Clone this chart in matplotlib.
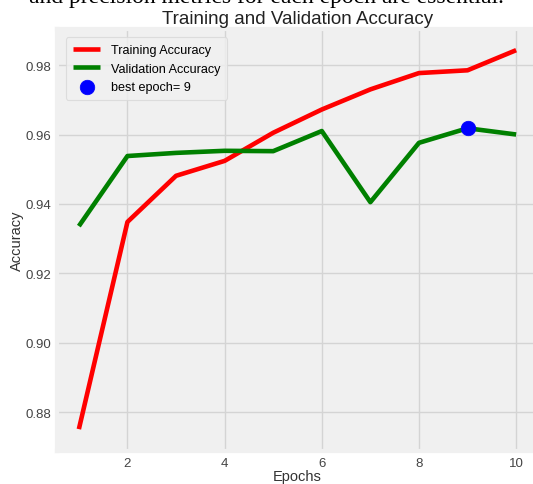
import matplotlib
matplotlib.use("Agg")
import matplotlib.pyplot as plt

plt.style.use("fivethirtyeight")
plt.rcParams["font.family"] = ["Liberation Sans", "DejaVu Sans"]

epochs = [1, 2, 3, 4, 5, 6, 7, 8, 9, 10]
train_acc = [0.8751, 0.9348, 0.9481, 0.9524, 0.9605, 0.9672, 0.9730, 0.9777, 0.9785, 0.9843]
val_acc = [0.9336, 0.9538, 0.9547, 0.9553, 0.9552, 0.9610, 0.9405, 0.9576, 0.9618, 0.9600]
best_epoch = 9

fig = plt.figure(figsize=(5.33, 4.85), dpi=100, facecolor="white")
ax = fig.add_axes([57 / 533, 33 / 485, 481 / 533, 422 / 485])
ax.set_facecolor("#f0f0f0")

ax.plot(epochs, train_acc, color="red", linewidth=3.3, label="Training Accuracy")
ax.plot(epochs, val_acc, color="green", linewidth=3.3, label="Validation Accuracy")
ax.scatter(best_epoch, val_acc[best_epoch - 1], s=110, color="blue", zorder=3,
           label=f"best epoch= {best_epoch}")

ax.set_xlim(0.55, 10.45)
ax.set_ylim(0.8688, 0.9904)
ax.set_xticks([2, 4, 6, 8, 10])
ax.set_yticks([0.88, 0.90, 0.92, 0.94, 0.96, 0.98])
ax.set_yticklabels(["0.88", "0.90", "0.92", "0.94", "0.96", "0.98"])
ax.tick_params(labelsize=9.5, colors="#444444", pad=4)
ax.grid(True, color="#d4d4d4", linewidth=1)

ax.set_title("Training and Validation Accuracy", fontsize=13.5, color="#222222", pad=4)
ax.set_xlabel("Epochs", fontsize=10.5, color="#333333", labelpad=0)
ax.set_ylabel("Accuracy", fontsize=10.5, color="#333333", labelpad=1)

leg = ax.legend(loc="upper left", fontsize=9.1, frameon=True, facecolor="#f0f0f0",
                edgecolor="#d8d8d8", handlelength=2.2, borderpad=0.55, labelspacing=0.5,
                bbox_to_anchor=(0.005, 0.995))
leg.get_frame().set_linewidth(0.8)

# clipped line of document text above the chart
fig.text(0.5, 1.005, "and precision metrics for each epoch are essential.",
         ha="center", va="center", fontsize=17, family="Liberation Serif", color="black")

fig.savefig("out.png", dpi=100, facecolor="white")
